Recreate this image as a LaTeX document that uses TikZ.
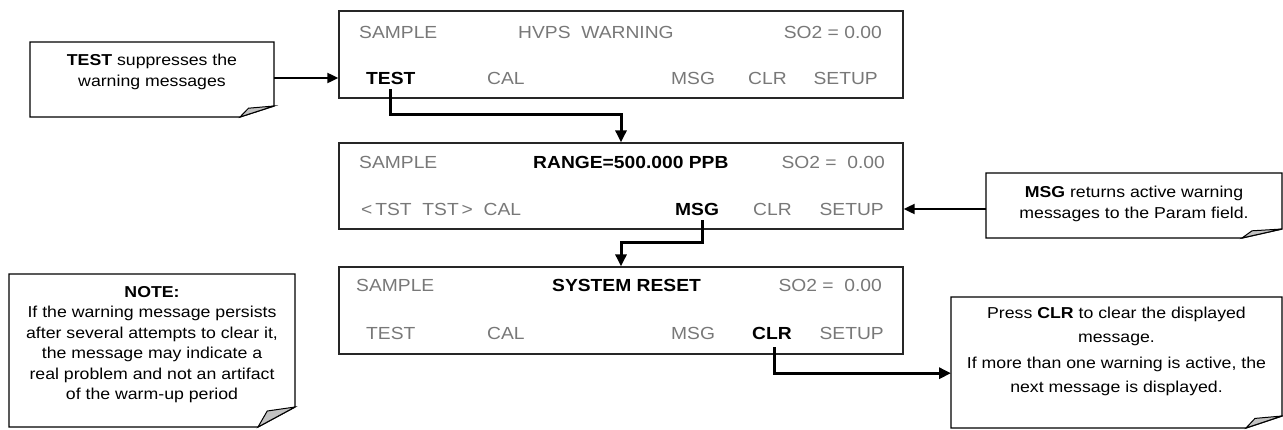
\documentclass[tikz,border=0pt]{standalone}
\usepackage{fontspec}
\setmainfont{Liberation Sans}
\newfontfamily\lcdfamily[FakeStretch=1.1]{Liberation Sans}
\newfontfamily\notefamily[FakeStretch=1.12]{Liberation Sans}
\usepackage{tikz}
\usetikzlibrary{calc}
\usetikzlibrary{arrows.meta,positioning}
\usepackage{xcolor}
\definecolor{lcdgray}{rgb}{0.47,0.47,0.47}
\definecolor{foldgray}{rgb}{0.76,0.76,0.76}
\newcommand{\lcd}{\lcdfamily\fontsize{17.5}{20}\selectfont}
\newcommand{\notetxt}{\notefamily\fontsize{15.8}{20.5}\selectfont}
% callout outline with folded corner: #1 node, #2 fold width, #3 fold height
\newcommand{\dogear}[3]{%
  \draw[line width=1.3pt,fill=white] (#1.north west) -- (#1.north east)
    -- ($(#1.south east)+(0pt,#3)$) -- ($(#1.south east)+(-#2,0pt)$)
    -- (#1.south west) -- cycle;
  \draw[line width=1pt,fill=foldgray] ($(#1.south east)+(-#2,0pt)$)
    -- ($(#1.south east)+(-0.75*#2,0.8*#3)$) -- ($(#1.south east)+(0pt,#3)$) -- cycle;}

\begin{document}
\begin{tikzpicture}[x=1pt,y=-1pt,
    lcdbox/.style={draw=black!85,line width=1.3pt,minimum width=564pt,inner sep=0pt},
    key/.style={text=lcdgray,font=\lcd,inner sep=0pt,anchor=west,text height=12pt,text depth=0pt},
    hot/.style={key,text=black,font=\lcd\bfseries},
    notebox/.style={inner sep=0pt,outer sep=0pt},
    notetext/.style={font=\notetxt,align=center,inner sep=0pt},
    flow/.style={line width=3pt,-{Triangle[length=12pt,width=11pt]}},
    pointer/.style={line width=2pt,-{Triangle[length=11pt,width=10pt]}}]
  \useasboundingbox (0,0) rectangle (1283,429);

  % display panels
  \node[lcdbox,minimum height=87pt] (p1) at (621,54.5) {};
  \node[lcdbox,minimum height=86pt] (p2) at (621,186) {};
  \node[lcdbox,minimum height=87pt] (p3) at (621,310.5) {};

  \node[key] (smp1) at (359,32) {SAMPLE};
  \node[key] (hvps) at (518,32) {HVPS\ \ WARNING};
  \node[key,anchor=east] (so1) at (882,32) {SO2 = 0.00};
  \node[hot] (test1) at (366,78) {TEST};
  \node[key] (cal1) at (487,78) {CAL};
  \node[key] (msg1) at (671,78) {MSG};
  \node[key] (clr1) at (748,78) {CLR};
  \node[key,anchor=east] (set1) at (878,78) {SETUP};

  \node[key] (smp2) at (359,162) {SAMPLE};
  \node[hot] (rng) at (533,162) {RANGE=500.000 PPB};
  \node[key,anchor=east] (so2) at (885,162) {SO2 =\ \ 0.00};
  \node[key] (tst) at (361,209) {<\,TST\ \ TST\,>\ \ CAL};
  \node[hot] (msg2) at (675,209) {MSG};
  \node[key] (clr2) at (753,209) {CLR};
  \node[key,anchor=east] (set2) at (884,209) {SETUP};

  \node[key] (smp3) at (356,285) {SAMPLE};
  \node[hot] (sys) at (552,285) {SYSTEM RESET};
  \node[key,anchor=east] (so3) at (882,285) {SO2 =\ \ 0.00};
  \node[key] (test3) at (366,333) {TEST};
  \node[key] (cal3) at (487,333) {CAL};
  \node[key] (msg3) at (671,333) {MSG};
  \node[hot] (clr3) at (752,333) {CLR};
  \node[key,anchor=east] (set3) at (884,333) {SETUP};

  % callouts
  \node[notebox,minimum width=244pt,minimum height=75pt] (cl1) at (152,79.5) {};
  \node[notebox,minimum width=296pt,minimum height=65pt] (cl2) at (1134,205.5) {};
  \node[notebox,minimum width=286pt,minimum height=153pt] (cl3) at (152,350.5) {};
  \node[notebox,minimum width=331pt,minimum height=131pt] (cl4) at (1116.5,362.5) {};
  \dogear{cl1}{34pt}{11pt}
  \dogear{cl2}{40pt}{9pt}
  \dogear{cl3}{37pt}{20pt}
  \dogear{cl4}{36pt}{12pt}

  \node[notetext,below=12pt of cl1.north] (cl1txt)
    {\textbf{TEST} suppresses the\\warning messages};
  \node[notetext,below=13pt of cl2.north] (cl2txt)
    {\textbf{MSG} returns active warning\\messages to the Param field.};
  \node[notetext,below=12pt of cl3.north] (cl3txt)
    {\textbf{NOTE:}\\If the warning message persists\\after several attempts to clear it,\\the message may indicate a\\real problem and not an artifact\\of the warm-up period};
  \node[notetext,below=10pt of cl4.north] (cl4txt)
    {Press \textbf{CLR} to clear the displayed\\[3pt]message.\\[6pt]If more than one warning is active, the\\[3pt]next message is displayed.};

  % connectors
  \draw[pointer] (cl1.east |- test1) -- (p1.west |- test1);
  \draw[pointer] (cl2.west |- set2) -- (p2.east |- set2);
  \draw[flow] ([yshift=-5pt]test1.south) -- ++(0,25) -| (p2.north);
  \draw[flow] ([xshift=5pt,yshift=-5pt]msg2.south) -- ++(0,22) -| (p3.north);
  \draw[flow] ([xshift=3pt,yshift=-8pt]clr3.south) -- ++(0,26) coordinate (clrbend)
    -- (clrbend -| cl4.west);
\end{tikzpicture}
\end{document}
